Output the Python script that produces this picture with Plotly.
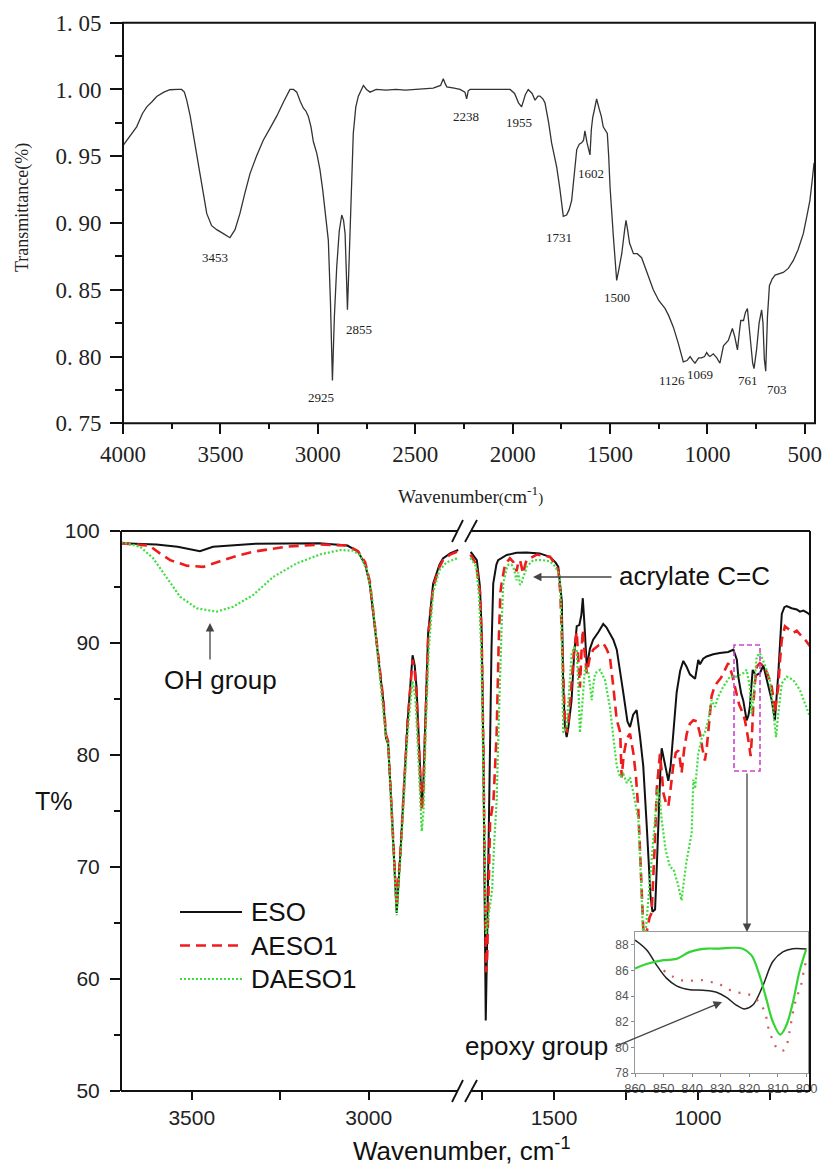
import plotly.graph_objects as go

W, H = 824, 1166


def px(x):
    return x / W


def py(y):
    return 1 - y / H


# ---------------- top panel: FTIR spectrum ----------------
TOP_WN = [4000, 3965, 3930, 3900, 3878, 3850, 3827, 3790, 3759, 3720, 3699, 3685, 3673, 3655, 3639,
          3620, 3605, 3585, 3570, 3545, 3519, 3485, 3451, 3425, 3400, 3375, 3348, 3315, 3280, 3245,
          3211, 3175, 3143, 3125, 3108, 3090, 3074, 3062, 3049, 3035, 3023, 3005, 2989, 2975, 2963,
          2950, 2946, 2935, 2925, 2915, 2903, 2890, 2877, 2868, 2860, 2853, 2848, 2842, 2835, 2826,
          2818, 2805, 2792, 2766, 2750, 2732, 2700, 2650, 2600, 2550, 2500, 2450, 2408, 2370, 2356,
          2345, 2338, 2300, 2270, 2245, 2236, 2228, 2218, 2100, 2013, 1990, 1970, 1954, 1935, 1920,
          1900, 1885, 1870, 1860, 1845, 1834, 1815, 1800, 1785, 1774, 1757, 1740, 1723, 1710, 1697,
          1685, 1671, 1658, 1646, 1636, 1629, 1618, 1603, 1596, 1589, 1580, 1569, 1555, 1545, 1535,
          1514, 1507, 1500, 1483, 1466, 1455, 1440, 1425, 1418, 1410, 1400, 1380, 1360, 1338, 1310,
          1278, 1250, 1218, 1200, 1175, 1150, 1124, 1105, 1089, 1075, 1064, 1045, 1030, 1015, 1004,
          995, 987, 970, 952, 936, 925, 918, 893, 880, 872, 860, 846, 835, 829, 815,
          805, 795, 780, 768, 761, 748, 735, 722, 715, 708, 701, 692, 682, 668, 653,
          630, 611, 585, 559, 535, 508, 490, 474, 460, 453]
TOP_T = [0.958, 0.965, 0.972, 0.982, 0.987, 0.991, 0.9947, 0.998, 0.9998, 1.000, 1.000, 0.998, 0.992, 0.980, 0.967,
         0.952, 0.937, 0.920, 0.907, 0.898, 0.895, 0.892, 0.889, 0.895, 0.907, 0.922, 0.937, 0.950, 0.962, 0.971,
         0.980, 0.991, 1.000, 1.000, 0.998, 0.991, 0.986, 0.984, 0.980, 0.972, 0.961, 0.952, 0.940, 0.925, 0.907,
         0.892, 0.887, 0.840, 0.782, 0.830, 0.867, 0.894, 0.906, 0.902, 0.892, 0.860, 0.835, 0.860, 0.892, 0.940,
         0.967, 0.987, 0.995, 1.003, 1.000, 0.998, 1.000, 0.9995, 1.000, 0.9995, 1.000, 1.001, 1.001, 1.003, 1.008,
         1.004, 1.002, 1.001, 1.000, 0.998, 0.993, 0.999, 1.000, 1.000, 1.000, 0.997, 0.990, 0.987, 0.996, 1.000,
         0.997, 0.992, 0.995, 0.995, 0.993, 0.990, 0.975, 0.960, 0.950, 0.942, 0.925, 0.905, 0.906, 0.910, 0.917,
         0.935, 0.955, 0.959, 0.960, 0.962, 0.969, 0.960, 0.951, 0.970, 0.979, 0.985, 0.993, 0.985, 0.980, 0.972,
         0.967, 0.950, 0.927, 0.890, 0.857, 0.865, 0.877, 0.895, 0.902, 0.895, 0.885, 0.877, 0.877, 0.874, 0.862,
         0.850, 0.842, 0.836, 0.831, 0.822, 0.810, 0.796, 0.797, 0.800, 0.797, 0.795, 0.799, 0.799, 0.800, 0.803,
         0.801, 0.800, 0.802, 0.799, 0.795, 0.803, 0.808, 0.812, 0.818, 0.821, 0.815, 0.805, 0.820, 0.827, 0.827,
         0.833, 0.836, 0.815, 0.795, 0.791, 0.805, 0.825, 0.835, 0.825, 0.798, 0.789, 0.830, 0.853, 0.858, 0.861,
         0.862, 0.863, 0.866, 0.872, 0.880, 0.892, 0.905, 0.917, 0.935, 0.945]

PEAK_LABELS = ["3453", "2925", "2855", "2238", "1955", "1602", "1731", "1500", "1126", "1069", "761", "703"]
PEAK_LABEL_WN = [3528, 2984, 2789, 2239, 1967, 1598, 1762, 1464, 1182, 1038, 792, 643]
PEAK_LABEL_T = [0.874, 0.769, 0.820, 0.980, 0.975, 0.937, 0.889, 0.8445, 0.7824, 0.7869, 0.7824, 0.775]

TOP_X_TICKS = [4000, 3500, 3000, 2500, 2000, 1500, 1000, 500]
TOP_X_MINOR = [3750, 3250, 2750, 2250, 1750, 1250, 750]
TOP_Y_TICKS = [0.75, 0.80, 0.85, 0.90, 0.95, 1.00, 1.05]
TOP_Y_TEXT = ["0. 75", "0. 80", "0. 85", "0. 90", "0. 95", "1. 00", "1. 05"]
TOP_Y_MINOR = [0.775, 0.825, 0.875, 0.925, 0.975, 1.025]

# ---------------- bottom panel: ESO / AESO1 / DAESO1 ----------------
ESO_WN = [3700, 3600, 3540, 3477, 3440, 3330, 3140, 3060, 3030, 3010, 2997, 2978, 2959, 2951, 2945,
          2935, 2921, 2910, 2902, 2890, 2876, 2870, 2865, 2856, 2850, 2846, 2838, 2832, 2818, 2800,
          2790, 2770, 2747,
          1790, 1787, 1768, 1757, 1751, 1745, 1740, 1737, 1733, 1728, 1722, 1717, 1711, 1700, 1694,
          1664, 1630, 1595, 1550, 1514, 1495, 1485, 1478, 1473, 1468, 1462, 1456, 1450, 1439, 1430,
          1421, 1412, 1405, 1400, 1395, 1386, 1375, 1364, 1345, 1329, 1318, 1306, 1294, 1282, 1270,
          1259, 1245, 1236, 1225, 1213, 1201, 1190, 1178, 1165, 1158, 1149, 1143, 1138, 1130, 1126,
          1115, 1103, 1095, 1085, 1074, 1062, 1051, 1040, 1028, 1010, 999, 993, 982, 970, 947,
          924, 895, 877, 865, 860, 850, 843, 831, 825, 820, 815, 810, 799, 785, 773,
          766, 755, 744, 733, 727, 721, 715, 709, 700, 692, 675, 657, 646, 634, 620, 611]
ESO_T = [98.9, 98.8, 98.6, 98.2, 98.6, 98.85, 98.9, 98.7, 98.15, 97.0, 95.3, 90.3, 84.9, 81.5, 81.0,
         75.0, 65.9, 71.5, 76.0, 83.0, 88.9, 88.0, 86.1, 80.0, 75.4, 77.0, 85.0, 90.9, 95.3, 97.0,
         97.56, 98.0, 98.3,
         98.0, 98.07, 97.4, 95.0, 90.9, 80.0, 65.0, 56.3, 62.0, 72.0, 82.0, 89.5, 95.3, 97.0, 97.4,
         97.86, 98.05, 98.07, 98.0, 97.7, 97.2, 96.8, 95.0, 93.8, 86.4, 82.5, 81.6, 82.5, 84.9, 89.0,
         91.5, 91.6, 92.5, 94.0, 92.0, 87.9, 89.5, 90.3, 91.0, 91.7, 91.4, 90.9, 90.3, 89.4, 87.5,
         85.5, 83.0, 82.5, 83.6, 84.0, 81.6, 79.0, 73.7, 67.5, 66.0, 66.2, 70.0, 73.7, 79.0, 80.6,
         79.3, 77.7, 79.0, 82.5, 85.6, 87.5, 88.4, 87.9, 87.2, 86.8, 88.5, 88.1, 88.6, 88.8, 89.0,
         89.1, 89.2, 89.4, 88.5, 87.0, 85.5, 84.9, 83.1, 83.5, 84.3, 86.0, 87.6, 87.1, 87.3, 88.0,
         87.2, 86.0, 84.9, 83.1, 85.0, 87.3, 90.0, 92.6, 93.2, 93.3, 93.1, 93.0, 92.8, 92.9, 92.7, 92.5]

AESO1_WN = [3700, 3620, 3590, 3561, 3514, 3467, 3420, 3370, 3326, 3232, 3136, 3060, 3030, 3010, 2997,
            2978, 2959, 2951, 2945, 2935, 2921, 2910, 2902, 2890, 2876, 2870, 2865, 2856, 2850, 2846,
            2838, 2832, 2818, 2800, 2790, 2770, 2747,
            1790, 1770, 1757, 1751, 1745, 1740, 1736, 1732, 1727, 1722, 1710, 1704, 1699, 1692, 1686,
            1682, 1670, 1653, 1640, 1630, 1624, 1618, 1612, 1607, 1600, 1595, 1560, 1514, 1495, 1485,
            1478, 1472, 1468, 1462, 1456, 1450, 1439, 1430, 1421, 1415, 1410, 1404, 1400, 1395, 1386,
            1375, 1364, 1345, 1329, 1318, 1306, 1294, 1282, 1275, 1270, 1265, 1258, 1247, 1236, 1224,
            1215, 1207, 1198, 1190, 1183, 1176, 1168, 1161, 1150, 1143, 1138, 1132, 1126, 1120, 1112,
            1103, 1095, 1086, 1077, 1068, 1062, 1057, 1048, 1039, 1028, 1016, 1004, 993, 984, 976,
            970, 964, 958, 953, 944, 935, 920, 912, 895, 883, 872, 857, 845, 837, 826,
            817, 812, 808, 802, 796, 785, 770, 755, 744, 738, 733, 727, 721, 715, 709,
            698, 685, 669, 657, 648, 640, 625, 611]
AESO1_T = [98.9, 98.7, 98.0, 97.4, 96.9, 96.8, 97.3, 97.8, 98.15, 98.6, 98.8, 98.7, 98.2, 97.2, 95.5,
           90.5, 85.0, 81.8, 81.2, 75.0, 66.5, 71.5, 76.5, 83.0, 88.5, 87.5, 85.5, 79.0, 75.0, 76.5,
           85.0, 90.5, 95.0, 96.8, 97.4, 97.9, 98.2,
           97.9, 97.0, 94.5, 90.5, 80.0, 67.0, 60.6, 62.0, 68.0, 74.0, 76.0, 79.0, 82.0, 90.0, 94.5,
           95.3, 97.0, 97.56, 97.2, 96.4, 97.2, 97.4, 96.8, 96.2, 97.0, 97.4, 97.9, 97.7, 97.0, 96.5,
           94.5, 90.0, 86.0, 83.0, 82.0, 83.0, 86.4, 89.5, 91.0, 88.0, 86.0, 89.5, 91.2, 89.5, 87.3,
           88.8, 89.4, 89.8, 90.0, 89.5, 88.8, 86.1, 83.1, 82.5, 82.0, 78.0, 80.0, 81.5, 81.9, 80.1,
           78.0, 75.0, 69.0, 64.5, 63.0, 64.5, 65.5, 65.9, 72.0, 77.0, 78.4, 80.1, 78.5, 76.6, 75.8,
           75.4, 77.0, 79.0, 80.2, 80.4, 79.5, 78.4, 80.5, 81.9, 82.8, 83.1, 83.0, 81.9, 80.5, 79.5,
           80.5, 81.9, 83.8, 85.2, 86.0, 86.4, 86.9, 87.3, 88.2, 87.3, 86.1, 84.5, 83.8, 83.1, 81.5,
           79.9, 82.0, 84.5, 86.5, 87.9, 88.2, 87.9, 87.0, 86.1, 85.0, 83.7, 85.0, 86.1, 88.5, 90.3,
           91.5, 91.2, 90.9, 91.1, 90.8, 90.6, 90.2, 89.7]

DAESO1_WN = [3700, 3646, 3609, 3571, 3533, 3486, 3430, 3383, 3326, 3270, 3204, 3138, 3081, 3044, 3025,
             3005, 2990, 2975, 2960, 2951, 2945, 2935, 2921, 2910, 2902, 2890, 2876, 2868, 2860, 2850,
             2845, 2838, 2830, 2818, 2800, 2780, 2747,
             1790, 1770, 1760, 1752, 1745, 1740, 1736, 1730, 1722, 1715, 1708, 1703, 1699, 1693, 1687,
             1680, 1676, 1665, 1658, 1648, 1641, 1635, 1630, 1624, 1618, 1612, 1607, 1600, 1595, 1572,
             1540, 1514, 1495, 1480, 1474, 1468, 1462, 1456, 1448, 1439, 1430, 1421, 1415, 1410, 1404,
             1398, 1392, 1385, 1380, 1374, 1369, 1362, 1357, 1340, 1323, 1306, 1294, 1282, 1270, 1259,
             1247, 1236, 1224, 1215, 1207, 1198, 1190, 1183, 1176, 1165, 1150, 1140, 1132, 1126, 1112,
             1097, 1085, 1070, 1057, 1050, 1040, 1022, 1016, 1010, 999, 987, 976, 964, 953, 941,
             930, 912, 889, 866, 843, 831, 820, 814, 808, 802, 796, 785, 770, 750, 738,
             729, 721, 709, 692, 669, 646, 623, 611]
DAESO1_T = [99.0, 98.6, 97.56, 95.9, 94.13, 93.1, 92.8, 93.24, 94.3, 95.9, 97.1, 97.9, 98.3, 98.24, 97.86,
            96.5, 94.0, 89.0, 84.0, 81.5, 81.0, 75.0, 65.7, 71.0, 75.5, 82.0, 86.6, 85.0, 80.0, 73.2,
            75.0, 83.0, 89.5, 94.5, 96.5, 97.2, 97.6,
            97.6, 96.8, 94.0, 89.0, 78.0, 68.0, 64.0, 65.0, 66.5, 68.0, 72.0, 74.0, 76.0, 82.0, 87.9,
            93.0, 95.3, 96.6, 97.0, 97.0, 96.8, 96.0, 95.6, 96.3, 95.2, 95.4, 95.9, 96.3, 96.8, 97.4,
            97.4, 97.3, 96.8, 96.0, 92.0, 82.0, 82.2, 82.5, 85.5, 89.0, 89.6, 89.4, 86.0, 82.0, 83.7,
            86.0, 87.9, 87.3, 87.3, 86.0, 84.9, 86.5, 87.3, 87.6, 86.7, 84.3, 81.9, 79.0, 78.0, 78.3,
            77.5, 78.0, 76.6, 75.5, 74.2, 69.0, 63.5, 63.8, 66.0, 70.0, 74.0, 77.0, 76.0, 74.2, 71.5,
            70.0, 69.8, 68.5, 67.0, 68.5, 70.5, 73.0, 77.8, 77.0, 80.1, 81.5, 82.0, 83.1, 84.9, 84.3,
            85.2, 86.1, 87.0, 87.0, 87.3, 87.6, 86.1, 83.7, 84.9, 87.0, 88.8, 89.1, 88.2, 86.7, 83.7,
            81.6, 83.7, 86.4, 87.0, 86.7, 85.8, 84.3, 83.4]

BOT_Y_TICKS = [50, 60, 70, 80, 90, 100]
BOT_Y_MINOR = [55, 65, 75, 85, 95]
BOT_X1_TICKS = [3500, 3250, 3000]
BOT_X1_TEXT = ["3500", " ", "3000"]
BOT_X2_TICKS = [1750, 1500, 1250, 1000, 750]
BOT_X2_TEXT = [" ", "1500", " ", "1000", " "]

# ---------------- inset (860-800 cm-1) ----------------
INSET_ESO_WN = [860, 855.9, 852.4, 849, 845.5, 840.8, 836.2, 831.5, 828, 824.6, 821.7, 818.8, 815.3,
                811.8, 808.3, 804.8, 800]
INSET_ESO_T = [88.37, 87.6, 86.4, 85.4, 84.8, 84.5, 84.45, 84.3, 83.9, 83.3, 83.0, 83.3, 84.8,
               86.7, 87.45, 87.7, 87.67]
INSET_DAESO1_WN = [860, 856, 850, 845.5, 840.8, 835, 830.4, 825.8, 822.3, 819.3, 816.4, 814.1, 811.8,
                   809.2, 807.1, 804.8, 802.5, 800.2]
INSET_DAESO1_T = [86.15, 86.5, 86.8, 86.9, 87.45, 87.7, 87.7, 87.77, 87.7, 87.2, 85.6, 83.8, 82.0,
                  81.0, 81.7, 83.5, 85.9, 87.6]
INSET_AESO1_WN = [850, 846.6, 843, 840, 836.8, 833.4, 831, 828, 824.6, 821.7, 818.8, 815.9, 814.5,
                  813, 811.6, 810, 807.7, 806, 804.8, 803.6, 802, 800.8, 799.8]
INSET_AESO1_T = [86.0, 85.5, 85.2, 85.2, 85.25, 85.1, 85.0, 84.6, 84.3, 84.2, 84.0, 83.3, 82.7,
                 81.2, 80.5, 79.8, 79.8, 81.2, 82.7, 83.8, 84.8, 86.15, 87.0]
INSET_X_TICKS = [860, 850, 840, 830, 820, 810, 800]
INSET_Y_TICKS = [78, 80, 82, 84, 86, 88]

SERIES_NAMES = ["ESO", "AESO1", "DAESO1"]

SERIF = "Liberation Serif, Times New Roman, serif"
SANS = "Liberation Sans, Arial, sans-serif"

BLACK = "#111111"
RED = "#ee1c1c"
GREEN = "#3ede3e"
STYLES = [
    dict(color=BLACK, width=2.0, dash="solid"),
    dict(color=RED, width=2.6, dash="10px,6px"),
    dict(color=GREEN, width=2.2, dash="2px,2px"),
]

fig = go.Figure()

# top spectrum
fig.add_trace(go.Scatter(x=TOP_WN, y=TOP_T, xaxis="x", yaxis="y", mode="lines",
                         line=dict(color="#333333", width=1.3), hoverinfo="skip", showlegend=False))

# bottom spectra, split across the broken axis
for (wn, t), st in zip([(ESO_WN, ESO_T), (AESO1_WN, AESO1_T), (DAESO1_WN, DAESO1_T)], STYLES):
    hi_x = [w for w in wn if w > 2000]
    hi_y = [v for w, v in zip(wn, t) if w > 2000]
    lo_x = [w for w in wn if w < 2000]
    lo_y = [v for w, v in zip(wn, t) if w < 2000]
    fig.add_trace(go.Scatter(x=hi_x, y=hi_y, xaxis="x2", yaxis="y2", mode="lines",
                             line=st, hoverinfo="skip", showlegend=False))
    fig.add_trace(go.Scatter(x=lo_x, y=lo_y, xaxis="x3", yaxis="y2", mode="lines",
                             line=st, hoverinfo="skip", showlegend=False))

# inset
fig.add_trace(go.Scatter(x=INSET_ESO_WN, y=INSET_ESO_T, xaxis="x4", yaxis="y4", mode="lines",
                         line=dict(color="#222222", width=1.5, shape="spline"), hoverinfo="skip",
                         showlegend=False))
fig.add_trace(go.Scatter(x=INSET_AESO1_WN, y=INSET_AESO1_T, xaxis="x4", yaxis="y4", mode="lines",
                         line=dict(color="#d05a5a", width=2.2, dash="2px,8px", shape="spline"),
                         hoverinfo="skip", showlegend=False))
fig.add_trace(go.Scatter(x=INSET_DAESO1_WN, y=INSET_DAESO1_T, xaxis="x4", yaxis="y4", mode="lines",
                         line=dict(color="#33d433", width=2.2, shape="spline"), hoverinfo="skip",
                         showlegend=False))

common = dict(showgrid=False, zeroline=False, showline=False, ticks="outside",
              tickcolor=BLACK, tickwidth=2, automargin=False)

fig.update_layout(
    width=W, height=H, margin=dict(l=0, r=0, t=0, b=0, autoexpand=False),
    paper_bgcolor="white", plot_bgcolor="white", showlegend=False,
    xaxis=dict(domain=[px(123), px(815)], range=[4000, 448], anchor="y",
               tickmode="array", tickvals=TOP_X_TICKS, ticklen=10, ticklabelstandoff=0,
               tickfont=dict(family=SERIF, size=23, color="#222222"),
               minor=dict(tickvals=TOP_X_MINOR, ticklen=5, ticks="outside", tickwidth=2,
                          tickcolor=BLACK),
               **common),
    yaxis=dict(domain=[py(423.3), py(22.7)], range=[0.75, 1.05], anchor="x",
               tickmode="array", tickvals=TOP_Y_TICKS, ticktext=TOP_Y_TEXT, ticklen=12,
               ticklabelstandoff=4,
               tickfont=dict(family=SERIF, size=23, color="#222222"),
               minor=dict(tickvals=TOP_Y_MINOR, ticklen=7, ticks="outside", tickwidth=2,
                          tickcolor=BLACK),
               **common),
    xaxis2=dict(domain=[px(121), px(460)], range=[3700, 2742], anchor="y2",
                tickmode="array", tickvals=BOT_X1_TICKS, ticktext=BOT_X1_TEXT, ticklen=8,
                ticklabelstandoff=0,
                tickfont=dict(family=SANS, size=21, color="#222222"), **common),
    xaxis3=dict(domain=[px(468), px(810)], range=[1798.6, 611], anchor="y2",
                tickmode="array", tickvals=BOT_X2_TICKS, ticktext=BOT_X2_TEXT, ticklen=8,
                ticklabelstandoff=0,
                tickfont=dict(family=SANS, size=21, color="#222222"), **common),
    yaxis2=dict(domain=[py(1091), py(531)], range=[50, 100], anchor="x2",
                tickmode="array", tickvals=BOT_Y_TICKS, ticklen=10, ticklabelstandoff=6,
                tickfont=dict(family=SANS, size=21, color="#222222"),
                minor=dict(tickvals=BOT_Y_MINOR, ticklen=6, ticks="outside", tickwidth=2,
                           tickcolor=BLACK),
                **common),
    xaxis4=dict(domain=[px(635), px(808)], range=[860, 799.5], anchor="y4",
                tickmode="array", tickvals=INSET_X_TICKS, ticks="outside", ticklen=3,
                tickcolor="#888888", tickwidth=1, showline=True, mirror=True,
                linecolor="#999999", linewidth=1, showgrid=False, zeroline=False,
                ticklabelstandoff=0, automargin=False,
                tickfont=dict(family=SANS, size=13, color="#555555")),
    yaxis4=dict(domain=[py(1073), py(932)], range=[78, 89], anchor="x4",
                tickmode="array", tickvals=INSET_Y_TICKS, ticks="outside", ticklen=3,
                tickcolor="#888888", tickwidth=1, showline=True, mirror=True,
                linecolor="#999999", linewidth=1, showgrid=False, zeroline=False,
                ticklabelstandoff=0, automargin=False,
                tickfont=dict(family=SANS, size=12, color="#555555")),
)

shapes = []


def seg(x0, y0, x1, y1, color=BLACK, width=2, dash="solid"):
    shapes.append(dict(type="line", xref="paper", yref="paper", x0=px(x0), y0=py(y0),
                       x1=px(x1), y1=py(y1), line=dict(color=color, width=width, dash=dash)))


# top frame
shapes.append(dict(type="rect", xref="paper", yref="paper", x0=px(123), x1=px(815),
                   y0=py(423.3), y1=py(22.7), line=dict(color=BLACK, width=2)))
# bottom frame with axis break
seg(121, 531, 121, 1091)
seg(810, 531, 810, 1091)
seg(121, 531, 458, 531)
seg(471, 531, 810, 531)
seg(121, 1091, 458, 1091)
seg(471, 1091, 810, 1091)
for yb in (531, 1091):
    seg(452, yb + 11, 463, yb - 11, width=1.8)
    seg(465, yb + 11, 477, yb - 11, width=1.8)
# magenta box
shapes.append(dict(type="rect", xref="paper", yref="paper", x0=px(734), x1=px(760),
                   y0=py(771), y1=py(645), line=dict(color="#cc44cc", width=1.6, dash="5px,3px")))
# legend samples
for i, st in enumerate(STYLES):
    yl = 912 + 33.5 * i
    seg(180, yl, 242, yl, color=st["color"], width=st["width"], dash=st["dash"])
fig.update_layout(shapes=shapes)

ann = []


def label(x, y, text, size, family=SANS, color="#111111", xanchor="center", angle=0):
    ann.append(dict(x=px(x), y=py(y), xref="paper", yref="paper", text=text, showarrow=False,
                    xanchor=xanchor, yanchor="middle", textangle=angle,
                    font=dict(family=family, size=size, color=color)))


def arrow(hx, hy, tx, ty):
    ann.append(dict(x=px(hx), y=py(hy), xref="paper", yref="paper", text="", showarrow=True,
                    ax=tx - hx, ay=ty - hy, arrowhead=2, arrowsize=1.3, arrowwidth=1.3,
                    arrowcolor="#444444", xanchor="center", yanchor="middle"))


# peak labels (top panel)
for lab, xw, yt in zip(PEAK_LABELS, PEAK_LABEL_WN, PEAK_LABEL_T):
    ann.append(dict(x=xw, y=yt, xref="x", yref="y", text=lab, showarrow=False,
                    xanchor="center", yanchor="middle",
                    font=dict(family=SERIF, size=13, color="#222222")))
# top axis titles
label(22, 208, "Transmittance(%)", 18, family=SERIF, color="#222222", angle=-90)
label(470, 495,
      "Wavenumber<span style='font-size:15px'>(</span>cm<sup>-1</sup><span style='font-size:15px'>)</span>",
      19, family=SERIF, color="#222222")
# bottom titles
label(54, 801, "T%", 25)
label(462, 1149, "Wavenumber, cm<sup>-1</sup>", 26)
# text labels
label(220, 680, "OH group", 26)
label(617, 576, "acrylate C=C", 26, xanchor="left")
label(536, 1046, "epoxy group", 26)
# arrows
arrow(210, 623, 210, 661)
arrow(533, 577, 613, 577)
arrow(722, 1002, 614, 1047)
arrow(747, 932, 747, 772)
# legend text
for i, name in enumerate(SERIES_NAMES):
    label(249, 912 + 33.5 * i, name, 26, xanchor="left")
fig.update_layout(annotations=ann)

fig.write_html("out.html", config={"displayModeBar": False},
               post_script="document.body.style.margin='0';document.body.style.overflow='hidden';")
